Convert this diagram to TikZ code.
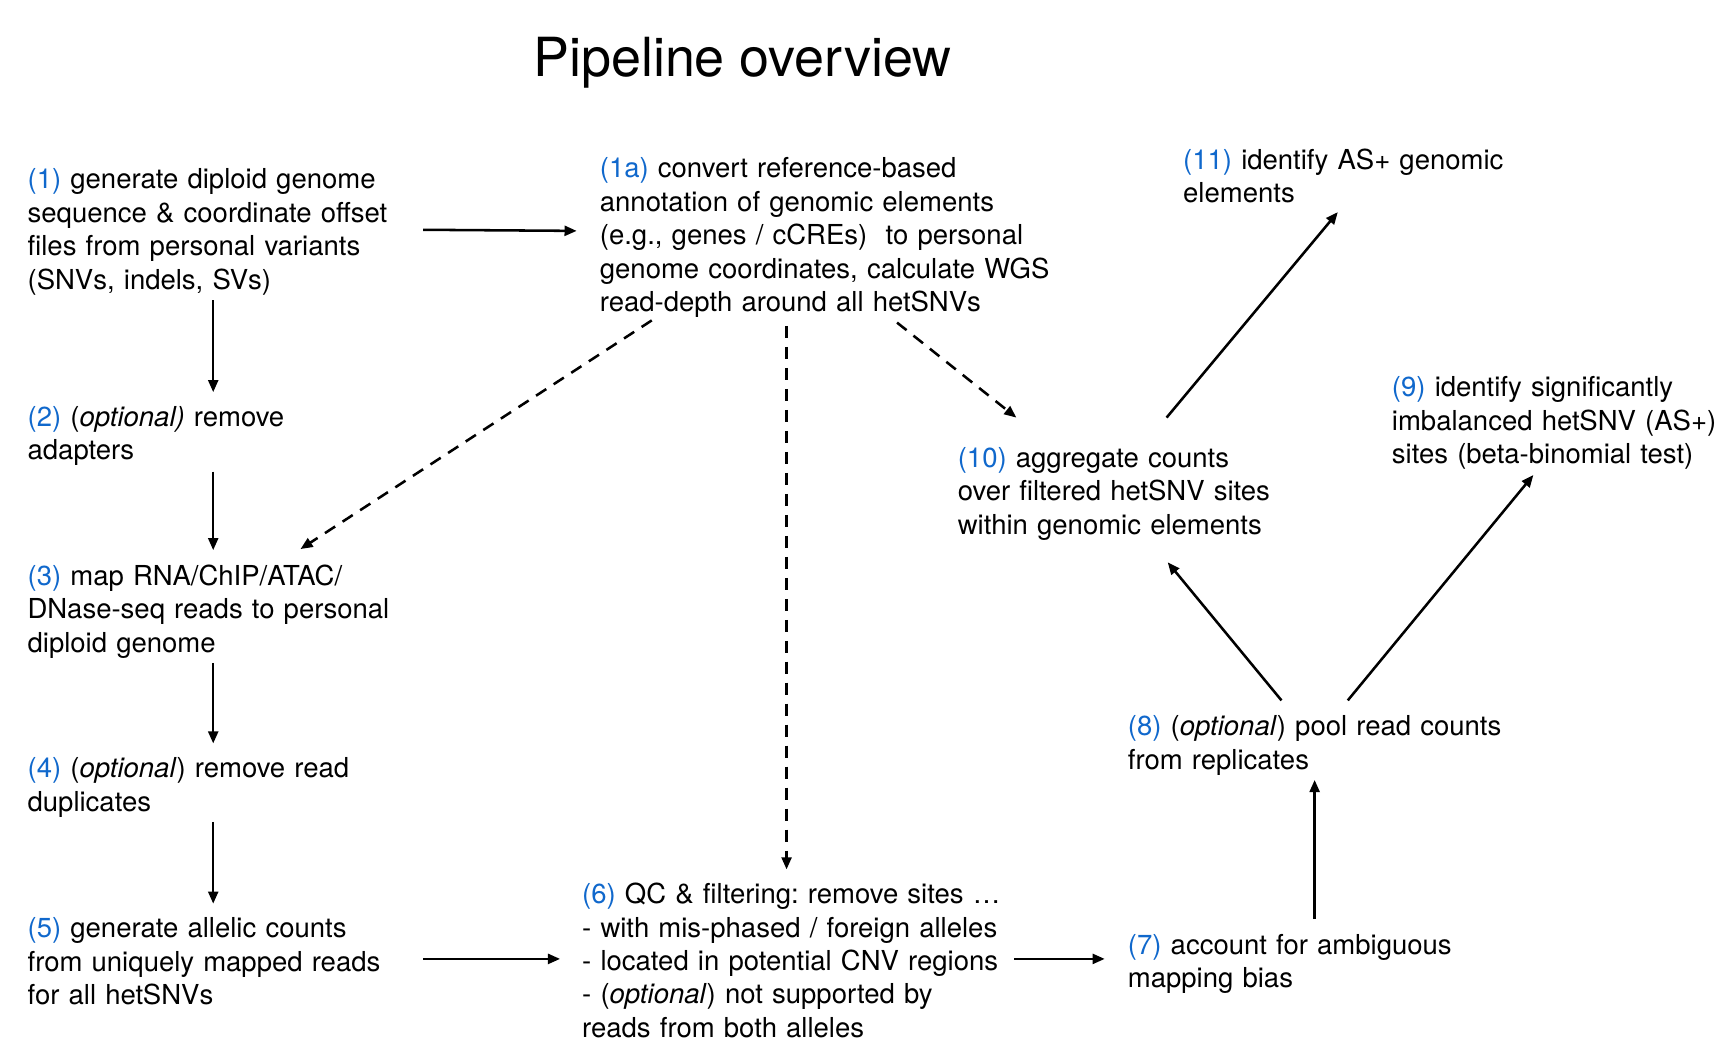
\documentclass[tikz,border=0pt]{standalone}
\usepackage{fontspec}
\setmainfont{TeX Gyre Heros}
\usetikzlibrary{arrows.meta,calc}
\definecolor{stepblue}{RGB}{16,104,204}
\newcommand{\nb}[1]{\textcolor{stepblue}{#1}}
\frenchspacing
\tikzset{
  txt/.style={anchor=base west,inner sep=0pt,outer sep=0pt,text width=560pt,align=left,
    font=\fontsize{24.9}{30.25}\selectfont},
  arr/.style={line width=2.3pt,-{Triangle[length=11pt,width=9pt]}},
  darr/.style={arr,dash pattern=on 11pt off 8pt}
}
\begin{document}
\begin{tikzpicture}[x=1pt,y=-1pt]
\useasboundingbox (0,0) rectangle (1566,956);
\node[anchor=base,inner sep=0pt,font=\fontsize{48.8}{56}\selectfont] (title) at (672,69) {Pipeline overview};

\node[txt] (n1) at (25,171) {\nb{(1)} generate diploid genome\\sequence \& coordinate offset\\files from personal variants\\(SNVs, indels, SVs)};
\node[txt] (n1a) at (543,161) {\nb{(1a)} convert reference-based\\annotation of genomic elements\\(e.g., genes / cCREs)\ \ to personal\\genome coordinates, calculate WGS\\read-depth around all hetSNVs};
\node[txt] (n11) at (1071,153) {\nb{(11)} identify AS+ genomic\\elements};
\node[txt] (n2) at (25,386) {\nb{(2)} (\textit{optional)} remove\\adapters};
\node[txt] (n9) at (1260,359) {\nb{(9)} identify significantly\\imbalanced hetSNV (AS+)\\sites (beta-binomial test)};
\node[txt] (n10) at (867,423) {\nb{(10)} aggregate counts\\over filtered hetSNV sites\\within genomic elements};
\node[txt] (n3) at (25,530) {\nb{(3)} map RNA/ChIP/ATAC/\\DNase-seq reads to personal\\diploid genome};
\node[txt] (n8) at (1021,666) {\nb{(8)} (\textit{optional}) pool read counts\\from replicates};
\node[txt] (n4) at (25,704) {\nb{(4)} (\textit{optional}) remove read\\duplicates};
\node[txt] (n5) at (25,849) {\nb{(5)} generate allelic counts\\from uniquely mapped reads\\for all hetSNVs};
\node[txt] (n6) at (527,818) {\nb{(6)} QC \& filtering: remove sites …\\- with mis-phased / foreign alleles\\- located in potential CNV regions\\- (\textit{optional}) not supported by\\reads from both alleles};
\node[txt] (n7) at (1021,864) {\nb{(7)} account for ambiguous\\mapping bias};

% solid connectors
\draw[arr] ($(n1.base west)+(358,37)$) -- ($(n1a.base west)+(-21,48)$);
\draw[arr] ($(n1.base west)+(168,101)$) -- ($(n2.base west)+(168,-31)$);
\draw[arr] ($(n2.base west)+(168,41)$) -- ($(n3.base west)+(168,-32)$);
\draw[arr] ($(n3.base west)+(168,70)$) -- ($(n4.base west)+(168,-31)$);
\draw[arr] ($(n4.base west)+(168,40)$) -- ($(n5.base west)+(168,-31)$);
\draw[arr] ($(n5.base west)+(358,19)$) -- ($(n6.base west)+(-20,50)$);
\draw[arr] ($(n6.base west)+(391,50)$) -- ($(n7.base west)+(-21,4)$);
\draw[arr] ($(n7.base west)+(169,-32)$) -- ($(n8.base west)+(169,40)$);
\draw[arr] ($(n8.base west)+(139,-32)$) -- ($(n10.base west)+(190,86)$);
\draw[arr] ($(n8.base west)+(199,-32)$) -- ($(n9.base west)+(128,71)$);
\draw[arr] ($(n10.base west)+(189,-45)$) -- ($(n11.base west)+(140,39)$);
% dashed connectors
\draw[darr] ($(n1a.base west)+(47,129)$) -- ($(n3.base west)+(247,-33)$);
\draw[darr] ($(n1a.base west)+(169,134)$) -- ($(n6.base west)+(185,-31)$);
\draw[darr] ($(n1a.base west)+(269,131)$) -- ($(n10.base west)+(53,-45)$);
\end{tikzpicture}
\end{document}
